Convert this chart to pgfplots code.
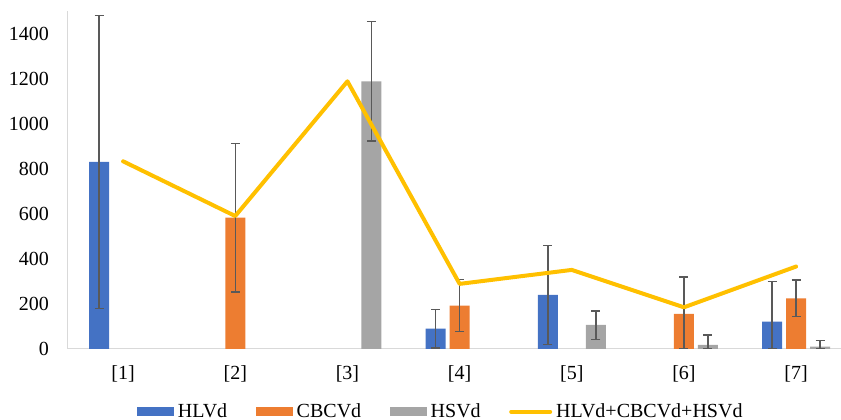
\documentclass[border=0pt]{standalone}
\usepackage{fontspec}
\setmainfont{Liberation Serif}
\usepackage{pgfplots}
\pgfplotsset{compat=1.18}
\definecolor{cHL}{HTML}{4472C4}
\definecolor{cCB}{HTML}{ED7D31}
\definecolor{cHS}{HTML}{A5A5A5}
\definecolor{cSum}{HTML}{FFC000}
\definecolor{cErr}{HTML}{595959}
\definecolor{cAx}{HTML}{D9D9D9}
\newcommand{\chartfont}{\fontsize{20}{23}\selectfont}
\begin{document}
\begin{tikzpicture}
\begin{axis}[
  at={(67pt,71pt)}, anchor=south west,
  scale only axis, width=774pt, height=338pt,
  xmin=0.5, xmax=7.4, ymin=0, ymax=1500,
  ybar, bar width=20pt,
  axis x line*=bottom, axis y line*=left,
  axis line style={draw=cAx, line width=1pt, -},
  xtick={1,2,3,4,5,6,7},
  xticklabels={{[1]},{[2]},{[3]},{[4]},{[5]},{[6]},{[7]}},
  ytick={0,200,400,600,800,1000,1200,1400},
  major tick length=0pt,
  tick style={draw=none},
  tick label style={font=\chartfont, text=black},
  yticklabel style={anchor=east, inner sep=0pt, xshift=-18pt},
  xticklabel style={anchor=north, inner sep=0pt, yshift=-16pt},
  /pgf/number format/assume math mode=true,
  /pgf/number format/set thousands separator={},
  legend columns=4,
  legend style={at={(0.0904,-0.184)}, anchor=west, draw=none, fill=none,
    inner sep=0pt, outer sep=0pt, font=\chartfont,
    nodes={inner sep=0pt},
    /tikz/every odd column/.append style={column sep=4pt},
    /tikz/every even column/.append style={column sep=28.5pt}},
  error bars/error bar style={cErr, line width=1.5pt},
  error bars/error mark options={cErr, rotate=90, mark size=4.5pt, line width=1.5pt},
]
\addplot[bar shift=-24pt, fill=cHL, draw=none,
  error bars/.cd, y dir=both, y explicit,
  /pgfplots/.cd, legend image code/.code={\fill[cHL] (0pt,-5pt) rectangle (37pt,4pt);}]
coordinates {
  (1,830) += (0,650) -= (0,650)
  (4,90) += (0,85) -= (0,85)
  (5,240) += (0,220) -= (0,220)
  (7,122) += (0,177) -= (0,122)
};
\addlegendentry{HLVd}
\addplot[bar shift=0pt, fill=cCB, draw=none,
  error bars/.cd, y dir=both, y explicit,
  /pgfplots/.cd, legend image code/.code={\fill[cCB] (0pt,-5pt) rectangle (37pt,4pt);}]
coordinates {
  (2,583) += (0,330) -= (0,330)
  (4,193) += (0,115) -= (0,115)
  (6,156) += (0,163) -= (0,156)
  (7,225) += (0,82) -= (0,81)
};
\addlegendentry{CBCVd}
\addplot[bar shift=24pt, fill=cHS, draw=none,
  error bars/.cd, y dir=both, y explicit,
  /pgfplots/.cd, legend image code/.code={\fill[cHS] (0pt,-5pt) rectangle (37pt,4pt);}]
coordinates {
  (3,1188) += (0,265) -= (0,265)
  (5,107) += (0,62) -= (0,64)
  (6,18) += (0,44) -= (0,18)
  (7,10) += (0,27) -= (0,10)
};
\addlegendentry{HSVd}
\addplot[sharp plot, cSum, line width=4pt, line join=round, line cap=round, mark=none,
  legend image code/.code={\draw[cSum, line width=4pt, line cap=round] (2pt,-0.5pt) -- (41pt,-0.5pt);}]
coordinates {(1,833) (2,590) (3,1188) (4,289) (5,351) (6,185) (7,366)};
\addlegendentry{HLVd+CBCVd+HSVd}
\end{axis}
\pgfresetboundingbox
\path[use as bounding box] (0,0) rectangle (841pt,420pt);
\end{tikzpicture}
\end{document}
